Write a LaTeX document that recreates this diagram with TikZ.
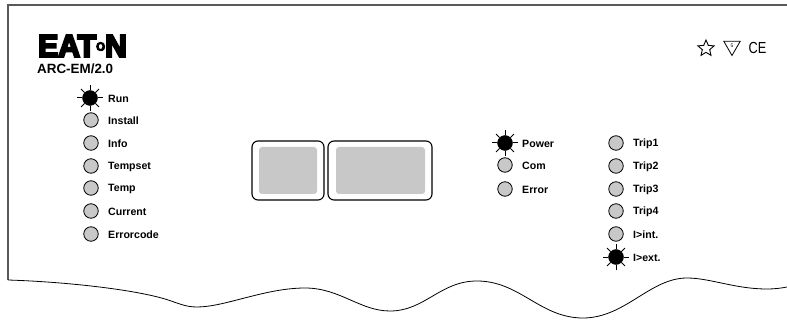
\documentclass[tikz,border=0pt]{standalone}
\usepackage{fontspec}
\setmainfont{Liberation Sans}
\newfontfamily\logofont[FakeBold=7,FakeStretch=0.97]{Liberation Sans}
\usetikzlibrary{shapes}
\usetikzlibrary{shapes.geometric}
\definecolor{ledgrey}{HTML}{C8C8C8}

\begin{document}
\begin{tikzpicture}[x=1pt,y=-1pt]
					\tikzset{led/.style = {shape=circle,draw,fill=ledgrey,line width=0.8pt,minimum 
					size=14.5pt, 
							inner 
							sep = 0pt}}
					\tikzset{ledOn/.style = {shape=circle,draw,fill=black,minimum 
					size=15pt, 
							inner 
							sep = 0pt}}
					\tikzset{ledName/.style = {anchor=west,inner sep=0pt,font=\fontsize{10.6}{12}\selectfont\bfseries}}
					\tikzset{window/.style = {shape=rectangle,draw,line width=1.1pt,rounded corners=6pt,inner sep=0pt}}
					\tikzset{pane/.style = {shape=rectangle,fill=ledgrey,rounded corners=3pt,inner sep=0pt}}
					\tikzset{ray/.style = {line width=1pt}}
					
					\useasboundingbox (0,0) rectangle (787,323);
					
					% outline
					\draw[line width=1.2pt, black!65] (787,5) -- (8,5) -- (8,280);
					\draw[line width=0.8pt] (8,280) .. controls (70,282) and (135,290) .. (165,299)
						.. controls (178,303) and (185,307) .. (197,307)
						.. controls (225,307) and (265,288) .. (305,288)
						.. controls (340,288) and (360,311) .. (390,311)
						.. controls (425,311) and (440,281) .. (477,281)
						.. controls (520,281) and (540,318) .. (583,318)
						.. controls (625,318) and (650,278) .. (687,278)
						.. controls (710,278) and (735,289) .. (767,289)
						.. controls (775,289) and (782,288) .. (787,287);
					
					% logo
					\node[anchor=west,inner sep=0pt,font=\logofont\bfseries\fontsize{31}{31}\selectfont] (logo) at (38,46) {EAT\raisebox{6pt}{\fontsize{12}{12}\selectfont O}N};
					\node[anchor=west,inner sep=0pt,font=\fontsize{13.4}{15}\selectfont\bfseries] (model) at (37,69) {ARC-EM/2.0};
					
					% marks
					\node[draw,shape=star,star points=5,star point ratio=2.2,line width=0.9pt,minimum size=17pt,inner sep=0pt] (star) at (706,48.5) {};
					\node[draw,shape=regular polygon,regular polygon sides=3,shape border rotate=180,line width=0.8pt,minimum size=19pt,inner sep=0pt,font=\fontsize{5}{5}\selectfont] (triangle) at (732,46) {5};
					\node[inner sep=0pt,xscale=0.8,font=\fontsize{16}{16}\selectfont] (ce) at (757.5,48) {CE};
					
					% displays
					\node[window,minimum width=72pt,minimum height=59pt] (winA) at (288,170.5) {};
					\node[window,minimum width=104pt,minimum height=59pt] (winB) at (380,170.5) {};
					\node[pane,minimum width=58pt,minimum height=47pt] (paneA) at (288,170.5) {};
					\node[pane,minimum width=89pt,minimum height=47pt] (paneB) at (380.5,170.5) {};
					
					% leds, left column
					\node[ledOn] (run) at (90,98) {};
					\node[ledName] (runName) at (108,98.7) {Run};
					\foreach \name/\title/\ypos in {install/Install/120, info/Info/143, tempset/Tempset/166, temp/Temp/188, current/Current/211, errorcode/Errorcode/234}
					{
						\node[led] (\name) at (91,\ypos) {};
						\node[ledName] (\name Name) at (108,\ypos+0.7) {\title};
					}
					
					% leds, middle column
					\node[ledOn] (power) at (505,143) {};
					\node[ledName] (powerName) at (522,143.7) {Power};
					\node[led] (com) at (505,165) {};
					\node[ledName] (comName) at (522,165.7) {Com};
					\node[led] (error) at (505,189) {};
					\node[ledName] (errorName) at (522,189.7) {Error};
					
					% leds, right column
					\foreach \name/\title/\ypos in {tripA/Trip1/143, tripB/Trip2/166, tripC/Trip3/189, tripD/Trip4/211, int/I>int./234}
					{
						\node[led] (\name) at (616,\ypos) {};
						\node[ledName] (\name Name) at (633,\ypos+0.7) {\title};
					}
					\node[ledOn] (ext) at (616,257) {};
					\node[ledName] (extName) at (633,257.7) {I>ext.};
					
					% rays
					\foreach \name in {run,power,ext}
					{
						\foreach \a in {0,45,...,315}
							\draw[ray] (\name.\a) -- ++(\a:5pt);
					}
					
					\end{tikzpicture}
\end{document}
